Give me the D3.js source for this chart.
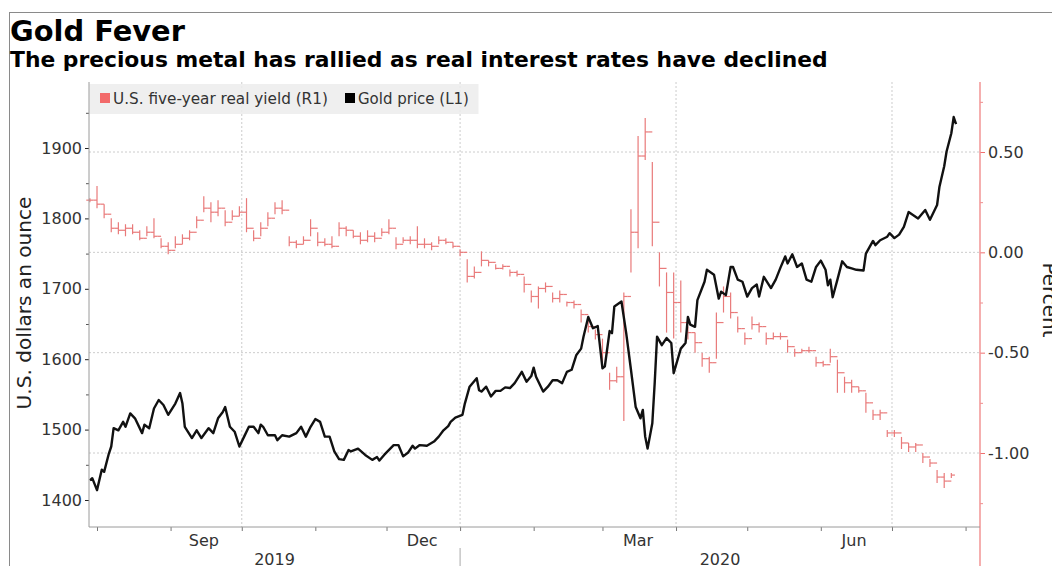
<!DOCTYPE html>
<html>
<head>
<meta charset="utf-8">
<script src="https://cdn.jsdelivr.net/npm/d3@7"></script>
<style>
body { margin: 0; background: #fff; }
svg text { font-family: "DejaVu Sans", Verdana, sans-serif; }
</style>
</head>
<body>
<svg id="chart" width="1052" height="566"></svg>
<script>
/* Gold price, USD an ounce (left axis) */
var goldDates = ["2019-07-29","2019-07-30","2019-08-01","2019-08-03","2019-08-04","2019-08-06","2019-08-07","2019-08-08","2019-08-10","2019-08-12",
  "2019-08-13","2019-08-15","2019-08-17","2019-08-20","2019-08-21","2019-08-23","2019-08-25","2019-08-27","2019-08-29","2019-08-31",
  "2019-09-03","2019-09-05","2019-09-06","2019-09-07","2019-09-10","2019-09-12","2019-09-14","2019-09-17","2019-09-19","2019-09-21",
  "2019-09-23","2019-09-24","2019-09-26","2019-09-28","2019-09-30","2019-10-02","2019-10-04","2019-10-06","2019-10-08","2019-10-09",
  "2019-10-10","2019-10-12","2019-10-15","2019-10-16","2019-10-18","2019-10-21","2019-10-24","2019-10-26","2019-10-28","2019-10-30",
  "2019-11-01","2019-11-03","2019-11-05","2019-11-07","2019-11-09","2019-11-11","2019-11-13","2019-11-15","2019-11-16","2019-11-19",
  "2019-11-22","2019-11-25","2019-11-27","2019-11-28","2019-11-30","2019-12-04","2019-12-06","2019-12-08","2019-12-10","2019-12-12",
  "2019-12-13","2019-12-15","2019-12-18","2019-12-21","2019-12-23","2019-12-25","2019-12-27","2019-12-28","2019-12-30","2020-01-02",
  "2020-01-03","2020-01-05","2020-01-08","2020-01-09","2020-01-10","2020-01-12","2020-01-14","2020-01-16","2020-01-18","2020-01-20",
  "2020-01-22","2020-01-24","2020-01-27","2020-01-29","2020-01-31","2020-02-01","2020-02-02","2020-02-05","2020-02-07","2020-02-09",
  "2020-02-11","2020-02-13","2020-02-15","2020-02-17","2020-02-19","2020-02-21","2020-02-22","2020-02-24","2020-02-26","2020-02-28",
  "2020-03-01","2020-03-02","2020-03-04","2020-03-05","2020-03-06","2020-03-09","2020-03-11","2020-03-13","2020-03-15","2020-03-17",
  "2020-03-18","2020-03-19","2020-03-20","2020-03-22","2020-03-23","2020-03-24","2020-03-26","2020-03-28","2020-03-30","2020-03-31",
  "2020-04-03","2020-04-05","2020-04-06","2020-04-07","2020-04-09","2020-04-10","2020-04-13","2020-04-14","2020-04-17","2020-04-19",
  "2020-04-20","2020-04-22","2020-04-24","2020-04-25","2020-04-27","2020-04-29","2020-05-01","2020-05-03","2020-05-05","2020-05-06",
  "2020-05-08","2020-05-11","2020-05-13","2020-05-15","2020-05-17","2020-05-18","2020-05-20","2020-05-22","2020-05-24","2020-05-26",
  "2020-05-28","2020-05-30","2020-06-01","2020-06-03","2020-06-04","2020-06-05","2020-06-06","2020-06-08","2020-06-10","2020-06-12",
  "2020-06-14","2020-06-16","2020-06-19","2020-06-20","2020-06-23","2020-06-24","2020-06-26","2020-06-29","2020-06-30","2020-07-02",
  "2020-07-04","2020-07-06","2020-07-08","2020-07-12","2020-07-15","2020-07-17","2020-07-20","2020-07-21","2020-07-23","2020-07-24",
  "2020-07-26","2020-07-27","2020-07-28"];
var goldPrice = [1428,1431,1414,1443,1440,1466,1476,1502,1499,1511,
  1504,1523,1516,1495,1507,1502,1530,1542,1535,1521,
  1537,1552,1537,1504,1488,1499,1488,1502,1495,1516,
  1525,1532,1504,1497,1476,1490,1504,1504,1495,1507,
  1504,1492,1492,1485,1492,1490,1495,1504,1490,1504,
  1515,1511,1490,1490,1469,1458,1457,1471,1469,1473,
  1464,1457,1461,1456,1464,1478,1478,1462,1467,1477,
  1473,1478,1477,1483,1490,1499,1505,1511,1517,1521,
  1537,1561,1573,1556,1554,1561,1547,1555,1555,1560,
  1559,1566,1582,1568,1576,1588,1575,1554,1561,1570,
  1570,1566,1582,1585,1606,1615,1632,1660,1644,1647,
  1587,1590,1640,1637,1675,1682,1637,1585,1532,1516,
  1528,1490,1473,1509,1566,1632,1620,1630,1623,1580,
  1615,1623,1660,1649,1646,1684,1710,1727,1720,1686,
  1696,1691,1731,1731,1713,1710,1689,1701,1706,1689,
  1717,1701,1713,1730,1746,1736,1749,1731,1736,1713,
  1710,1731,1740,1727,1705,1713,1688,1713,1739,1731,
  1729,1727,1726,1750,1768,1762,1769,1774,1779,1772,
  1777,1788,1809,1800,1812,1798,1819,1845,1874,1895,
  1921,1944,1934];

/* U.S. five-year real yield, percent (right axis), bars */
var yieldDates = ["2019-07-29","2019-08-01","2019-08-04","2019-08-07","2019-08-10","2019-08-13","2019-08-16","2019-08-19","2019-08-22","2019-08-25",
  "2019-08-28","2019-08-31","2019-09-03","2019-09-06","2019-09-09","2019-09-12","2019-09-15","2019-09-18","2019-09-21","2019-09-24",
  "2019-09-27","2019-09-30","2019-10-03","2019-10-06","2019-10-09","2019-10-12","2019-10-15","2019-10-18","2019-10-21","2019-10-24",
  "2019-10-27","2019-10-30","2019-11-02","2019-11-05","2019-11-08","2019-11-11","2019-11-14","2019-11-17","2019-11-20","2019-11-23",
  "2019-11-26","2019-11-29","2019-12-02","2019-12-05","2019-12-08","2019-12-11","2019-12-14","2019-12-17","2019-12-20","2019-12-23",
  "2019-12-26","2019-12-29","2020-01-01","2020-01-04","2020-01-07","2020-01-10","2020-01-13","2020-01-16","2020-01-19","2020-01-22",
  "2020-01-25","2020-01-28","2020-01-31","2020-02-03","2020-02-06","2020-02-09","2020-02-12","2020-02-15","2020-02-18","2020-02-21",
  "2020-02-24","2020-02-27","2020-03-01","2020-03-04","2020-03-07","2020-03-10","2020-03-13","2020-03-16","2020-03-19","2020-03-22",
  "2020-03-25","2020-03-28","2020-03-31","2020-04-03","2020-04-06","2020-04-09","2020-04-12","2020-04-15","2020-04-18","2020-04-21",
  "2020-04-24","2020-04-27","2020-04-30","2020-05-03","2020-05-06","2020-05-09","2020-05-12","2020-05-15","2020-05-18","2020-05-21",
  "2020-05-24","2020-05-27","2020-05-30","2020-06-02","2020-06-05","2020-06-08","2020-06-11","2020-06-14","2020-06-17","2020-06-20",
  "2020-06-23","2020-06-26","2020-06-29","2020-07-02","2020-07-05","2020-07-08","2020-07-11","2020-07-14","2020-07-17","2020-07-20",
  "2020-07-23","2020-07-26"];
var yieldLow = [0.25,0.22,0.17,0.10,0.09,0.08,0.09,0.06,0.08,0.07,
  0.02,-0.01,0.02,0.04,0.06,0.12,0.20,0.15,0.18,0.13,
  0.16,0.18,0.10,0.055,0.08,0.13,0.19,0.19,0.03,0.02,
  0.04,0.08,0.03,0.03,0.02,0.08,0.08,0.07,0.04,0.05,
  0.05,0.08,0.09,0.015,0.045,0.04,0.02,0.02,0.01,0.04,
  0.04,0.02,-0.02,-0.15,-0.13,-0.07,-0.07,-0.085,-0.085,-0.12,
  -0.12,-0.20,-0.25,-0.28,-0.20,-0.25,-0.25,-0.27,-0.28,-0.35,
  -0.40,-0.435,-0.55,-0.685,-0.65,-0.84,-0.10,0.02,0.46,0.03,
  -0.17,-0.40,-0.43,-0.40,-0.435,-0.50,-0.57,-0.60,-0.53,-0.30,
  -0.33,-0.40,-0.46,-0.385,-0.40,-0.46,-0.435,-0.435,-0.50,-0.52,
  -0.50,-0.50,-0.57,-0.57,-0.55,-0.70,-0.70,-0.70,-0.70,-0.80,
  -0.835,-0.835,-0.92,-0.92,-0.98,-0.995,-0.995,-1.05,-1.07,-1.15,
  -1.175,-1.125];
var yieldHigh = [0.27,0.33,0.24,0.17,0.15,0.14,0.14,0.11,0.13,0.17,
  0.07,0.05,0.08,0.09,0.11,0.18,0.28,0.25,0.26,0.21,
  0.21,0.23,0.27,0.11,0.15,0.20,0.25,0.26,0.08,0.06,
  0.08,0.165,0.10,0.07,0.08,0.15,0.13,0.11,0.10,0.11,
  0.10,0.12,0.165,0.075,0.075,0.08,0.13,0.07,0.05,0.08,
  0.07,0.05,0.015,-0.035,-0.07,0.005,-0.04,-0.06,-0.06,-0.085,
  -0.09,-0.12,-0.19,-0.17,-0.15,-0.20,-0.19,-0.245,-0.24,-0.285,
  -0.33,-0.385,-0.43,-0.60,-0.57,-0.20,0.215,0.58,0.67,0.45,
  0.0,-0.10,-0.10,-0.14,-0.37,-0.40,-0.50,-0.52,-0.30,-0.17,
  -0.20,-0.32,-0.40,-0.32,-0.35,-0.40,-0.40,-0.40,-0.435,-0.48,
  -0.48,-0.47,-0.52,-0.54,-0.48,-0.535,-0.62,-0.635,-0.67,-0.70,
  -0.785,-0.785,-0.885,-0.885,-0.92,-0.95,-0.95,-1.0,-1.03,-1.085,
  -1.10,-1.10];
var yieldClose = [0.26,0.24,0.19,0.12,0.11,0.12,0.10,0.07,0.10,0.08,
  0.03,0.01,0.04,0.07,0.10,0.16,0.22,0.20,0.22,0.15,
  0.18,0.20,0.12,0.07,0.12,0.17,0.22,0.21,0.05,0.04,
  0.06,0.12,0.05,0.04,0.03,0.12,0.11,0.08,0.06,0.08,
  0.07,0.10,0.12,0.04,0.06,0.06,0.04,0.04,0.03,0.06,
  0.05,0.03,0.0,-0.12,-0.10,-0.04,-0.05,-0.08,-0.07,-0.10,
  -0.11,-0.16,-0.22,-0.18,-0.17,-0.23,-0.21,-0.25,-0.26,-0.31,
  -0.37,-0.41,-0.50,-0.64,-0.62,-0.22,0.10,0.48,0.60,0.15,
  -0.08,-0.20,-0.25,-0.35,-0.40,-0.45,-0.53,-0.55,-0.35,-0.22,
  -0.30,-0.38,-0.43,-0.36,-0.37,-0.43,-0.42,-0.42,-0.47,-0.50,
  -0.49,-0.49,-0.55,-0.56,-0.52,-0.60,-0.65,-0.67,-0.69,-0.75,
  -0.81,-0.80,-0.90,-0.90,-0.95,-0.97,-0.96,-1.02,-1.05,-1.12,
  -1.14,-1.11];

/* Axis ticks and labels */
var goldTicks = [1400, 1500, 1600, 1700, 1800, 1900];
var goldMinorTicks = [1450, 1550, 1650, 1750, 1850, 1950];
var yieldTicks = [0.5, 0, -0.5, -1];
var yieldMinorTicks = [0.75, 0.25, -0.25, -0.75, -1.25];
var monthLabels = ["Sep", "Dec", "Mar", "Jun"];
var monthLabelDates = ["2019-09-15", "2019-12-16", "2020-03-16", "2020-06-15"];
var yearLabels = ["2019", "2020"];
var gridDates = ["2019-10-01", "2020-01-01", "2020-04-01", "2020-07-01"];

var legendLabels = ["U.S. five-year real yield (R1)", "Gold price (L1)"];

function drawChart() {
    var plot = {left: 89, right: 980, top: 82, bottom: 527};
    var yieldColor = "#e97a7a";
    var parse = d3.timeParse("%Y-%m-%d");

    var svg = d3.select("#chart");

    var x = d3.scaleTime()
        .domain([new Date(2019, 6, 28, 15), new Date(2020, 7, 7, 2)])
        .range([plot.left, plot.right]);
    var yGold = d3.scaleLinear()
        .domain([1400, 1900])
        .range([500, 148]);
    var yYield = d3.scaleLinear()
        .domain([-1, 0.5])
        .range([453, 152]);

    /* outer frame */
    svg.append("rect")
        .attr("x", 9.5).attr("y", 12.5)
        .attr("width", 1100).attr("height", 600)
        .attr("fill", "none")
        .attr("stroke", "#8a8a8a");

    /* Titles */
    function fit(sel, target) {
        var size = parseFloat(sel.attr("font-size"));
        var w = sel.node().getComputedTextLength();
        sel.attr("font-size", (size * target / w).toFixed(2));
    }
    svg.append("text")
        .attr("x", 10).attr("y", 41)
        .attr("font-size", 28)
        .attr("font-weight", "bold")
        .text("Gold Fever")
        .call(fit, 175);
    svg.append("text")
        .attr("x", 10).attr("y", 67)
        .attr("font-size", 19)
        .attr("font-weight", "bold")
        .text("The precious metal has rallied as real interest rates have declined")
        .call(fit, 818);

    /* Grid */
    var grid = svg.append("g").attr("class", "grid");
    grid.selectAll("line.h")
        .data(yieldTicks)
        .enter().append("line")
        .attr("class", "h")
        .attr("x1", plot.left).attr("x2", plot.right)
        .attr("y1", d => yYield(d)).attr("y2", d => yYield(d))
        .attr("stroke", "#cccccc")
        .attr("stroke-dasharray", "2,2");
    grid.selectAll("line.v")
        .data(gridDates)
        .enter().append("line")
        .attr("class", "v")
        .attr("x1", d => x(parse(d))).attr("x2", d => x(parse(d)))
        .attr("y1", plot.top).attr("y2", plot.bottom)
        .attr("stroke", "#cccccc")
        .attr("stroke-dasharray", "2,2");

    /* Legend */
    var legend = svg.append("g");
    legend.append("rect")
        .attr("x", plot.left + 0.5).attr("y", 84)
        .attr("width", 389).attr("height", 30)
        .attr("fill", "#ececec")
        .attr("fill-opacity", 0.85);
    var legendX = [100, 345];
    var legendW = [215, 111];
    var legendColor = ["#f26a6a", "#000000"];
    legend.selectAll("rect.key")
        .data(legendLabels)
        .enter().append("rect")
        .attr("class", "key")
        .attr("x", (d, i) => legendX[i]).attr("y", 93)
        .attr("width", 10).attr("height", 10)
        .attr("fill", (d, i) => legendColor[i]);
    legend.selectAll("text")
        .data(legendLabels)
        .enter().append("text")
        .attr("x", (d, i) => legendX[i] + 13).attr("y", 104)
        .attr("font-size", 13)
        .attr("fill", "#333")
        .text(d => d)
        .each(function(d, i) { fit(d3.select(this), legendW[i]); });

    /* Yield bars (hi-lo with open / close ticks) */
    var bars = yieldDates.map((d, i) => ({
        date: parse(d),
        lo: yieldLow[i], hi: yieldHigh[i], close: yieldClose[i],
        open: i > 0 ? yieldClose[i - 1] : yieldClose[i]
    }));
    var barG = svg.append("g")
        .attr("stroke", yieldColor)
        .attr("stroke-width", 1.2);
    barG.selectAll("line.hl")
        .data(bars)
        .enter().append("line")
        .attr("x1", d => x(d.date)).attr("x2", d => x(d.date))
        .attr("y1", d => yYield(d.lo)).attr("y2", d => yYield(d.hi));
    barG.selectAll("line.op")
        .data(bars)
        .enter().append("line")
        .attr("x1", d => x(d.date) - 3.6).attr("x2", d => x(d.date))
        .attr("y1", d => yYield(d.open)).attr("y2", d => yYield(d.open));
    barG.selectAll("line.cl")
        .data(bars)
        .enter().append("line")
        .attr("x1", d => x(d.date)).attr("x2", d => x(d.date) + 3.6)
        .attr("y1", d => yYield(d.close)).attr("y2", d => yYield(d.close));

    /* Gold line */
    var gold = goldDates.map((d, i) => ({date: parse(d), v: goldPrice[i]}));
    var line = d3.line()
        .x(d => x(d.date))
        .y(d => yGold(d.v));
    svg.append("path")
        .datum(gold)
        .attr("d", line)
        .attr("fill", "none")
        .attr("stroke", "#111")
        .attr("stroke-width", 2.4)
        .attr("stroke-linejoin", "round");

    /*** Axes ***/
    function styleAxis(g, color) {
        g.select(".domain").remove();
        g.selectAll(".tick line").attr("stroke", color);
        g.selectAll(".tick text")
            .attr("font-family", "DejaVu Sans, Verdana, sans-serif")
            .attr("font-size", 16)
            .attr("fill", "#333");
    }

    /* left */
    svg.append("g")
        .attr("transform", "translate(" + plot.left + ",0)")
        .call(d3.axisLeft(yGold).tickValues(goldMinorTicks).tickSize(3).tickFormat(""))
        .call(styleAxis, "#555");
    svg.append("g")
        .attr("transform", "translate(" + plot.left + ",0)")
        .call(d3.axisLeft(yGold).tickValues(goldTicks).tickSize(4).tickPadding(3)
            .tickFormat(d3.format("d")))
        .call(styleAxis, "#222");
    svg.append("line")
        .attr("x1", plot.left).attr("x2", plot.left)
        .attr("y1", plot.top).attr("y2", plot.bottom)
        .attr("stroke", "#9a9a9a");

    /* right */
    svg.append("g")
        .attr("transform", "translate(" + plot.right + ",0)")
        .call(d3.axisRight(yYield).tickValues(yieldMinorTicks).tickSize(3).tickFormat(""))
        .call(styleAxis, "#f08c8c");
    svg.append("g")
        .attr("transform", "translate(" + plot.right + ",0)")
        .call(d3.axisRight(yYield).tickValues(yieldTicks).tickSize(5).tickPadding(3)
            .tickFormat(d => d3.format(".2f")(d).replace("\u2212", "-")))
        .call(styleAxis, "#f07070");
    svg.append("line")
        .attr("x1", plot.right).attr("x2", plot.right)
        .attr("y1", plot.top).attr("y2", plot.bottom + 40)
        .attr("stroke", "#f29494")
        .attr("stroke-width", 1.5);

    /* bottom */
    svg.append("g")
        .attr("transform", "translate(0," + plot.bottom + ")")
        .call(d3.axisBottom(x).ticks(d3.timeMonth.every(1)).tickSize(4).tickFormat(""))
        .call(styleAxis, "#777");
    svg.append("line")
        .attr("x1", plot.left).attr("x2", plot.right)
        .attr("y1", plot.bottom).attr("y2", plot.bottom)
        .attr("stroke", "#9a9a9a");

    svg.selectAll("text.month")
        .data(monthLabels)
        .enter().append("text")
        .attr("class", "month")
        .attr("x", (d, i) => x(parse(monthLabelDates[i])))
        .attr("y", 546)
        .attr("text-anchor", "middle")
        .attr("font-size", 16)
        .attr("fill", "#333")
        .text(d => d);

    var yearStart = parse("2020-01-01");
    var yearMid = [(x.range()[0] + x(yearStart)) / 2, (x(yearStart) + x.range()[1]) / 2];
    svg.selectAll("text.year")
        .data(yearLabels)
        .enter().append("text")
        .attr("class", "year")
        .attr("x", (d, i) => yearMid[i])
        .attr("y", 565)
        .attr("text-anchor", "middle")
        .attr("font-size", 16)
        .attr("fill", "#333")
        .text(d => d);
    svg.append("line")
        .attr("x1", x(yearStart)).attr("x2", x(yearStart))
        .attr("y1", 548).attr("y2", 566)
        .attr("stroke", "#aaa");

    /* Axis titles */
    svg.append("text")
        .attr("transform", "translate(31,303) rotate(-90)")
        .attr("text-anchor", "middle")
        .attr("font-size", 20)
        .attr("fill", "#222")
        .text("U.S. dollars an ounce")
        .call(fit, 213);
    svg.append("text")
        .attr("transform", "translate(1043,300) rotate(90)")
        .attr("text-anchor", "middle")
        .attr("font-size", 20)
        .attr("fill", "#222")
        .text("Percent");
}
drawChart();
</script>
</body>
</html>
